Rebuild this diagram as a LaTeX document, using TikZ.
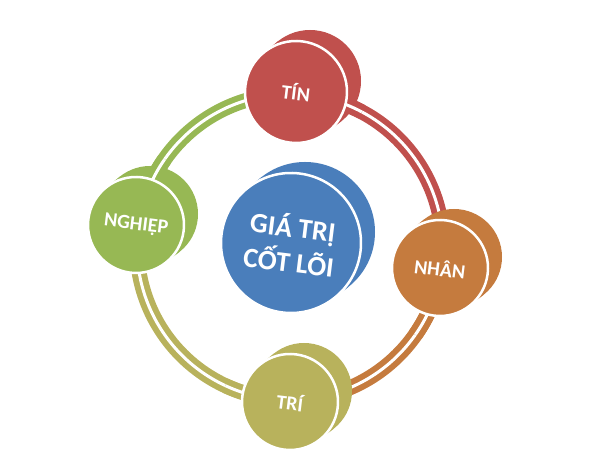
\documentclass[tikz,border=0pt]{standalone}
\usepackage{fontspec}
\setmainfont{Carlito}
\definecolor{cblue}{HTML}{4A7EBB}
\definecolor{cred}{HTML}{C0504D}
\definecolor{corange}{HTML}{C57B3E}
\definecolor{colive}{HTML}{B8B25C}
\definecolor{cgreen}{HTML}{97B854}
\tikzset{
  band/.style={line width=15pt},
  bandgap/.style={white, line width=3pt},
  front/.style={circle, inner sep=0pt, draw=white, line width=2.5pt, text=white, font=\bfseries\fontsize{20}{23}\selectfont, rotate=-7, align=center}
}
\newcommand{\ringarc}[3]{% color, start, end
  \draw[band,#1] ([shift={(#2:153)}]O) arc[start angle=#2,end angle=#3,radius=153];
  \draw[bandgap] ([shift={(#2:153)}]O) arc[start angle=#2,end angle=#3,radius=153];
}
\newcommand{\discback}[3]{% center, radius, color
  \fill[#3] (#1) circle[radius=#2];
  \fill[#3] ([shift={(14,11)}]#1) circle[radius=#2];
  \draw[#3, line width=2*#2] (#1) -- ([shift={(14,11)}]#1);
}
\begin{document}
\begin{tikzpicture}[x=1pt,y=1pt]
\useasboundingbox (0,0) rectangle (600,470);
\coordinate (O) at (290,223);
\coordinate (cTin) at (296,378);
\coordinate (cNhan) at (440,202);
\coordinate (cTri) at (290,68);
\coordinate (cNghiep) at (136,245);
\coordinate (cCore) at (291,227);
% ring arcs
\ringarc{cred}{88}{-8}
\ringarc{corange}{-8}{-90}
\ringarc{colive}{-90}{-188}
\ringarc{cgreen}{172}{88}
% core
\discback{cCore}{70}{cblue}
\node[front, fill=cblue, minimum size=140pt, font=\bfseries\fontsize{28}{35}\selectfont] (core) at (cCore) {GIÁ TRỊ\\CỐT LÕI};
% TIN
\discback{cTin}{51}{cred}
\ringarc{cred}{88}{62}
\node[front, fill=cred, minimum size=102pt] (tin) at (cTin) {TÍN};
% NHAN
\discback{cNhan}{48}{corange}
\ringarc{corange}{-8}{-35}
\node[front, fill=corange, minimum size=96pt] (nhan) at (cNhan) {NHÂN};
% TRI
\discback{cTri}{48}{colive}
\ringarc{colive}{-90}{-115}
\node[front, fill=colive, minimum size=96pt] (tri) at (cTri) {TRÍ};
% NGHIEP
\discback{cNghiep}{48}{cgreen}
\ringarc{cgreen}{172}{145}
\node[front, fill=cgreen, minimum size=96pt] (nghiep) at (cNghiep) {NGHIỆP};
\end{tikzpicture}
\end{document}
